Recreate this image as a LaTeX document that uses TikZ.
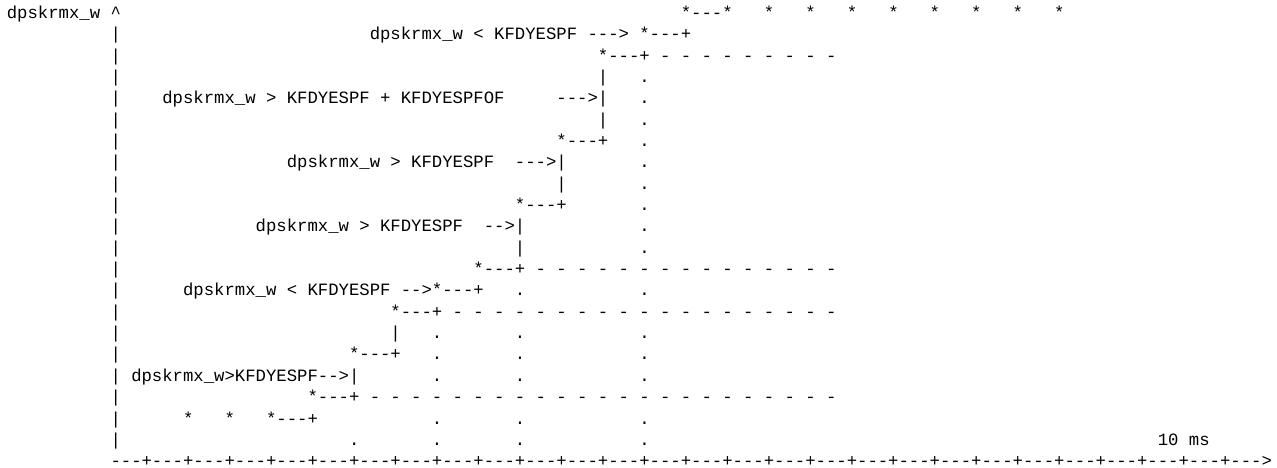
\documentclass[tikz,border=0pt]{standalone}
\usepackage{fontspec}
\setmonofont{Liberation Mono}
\usepackage{tikz}
\usetikzlibrary{positioning}
\tikzset{
  ascii/.style={font=\ttfamily\fontsize{10}{12}\selectfont,anchor=base west,xshift=-3pt,inner sep=0pt,outer sep=0pt},
  lbl/.style={ascii},
}

\begin{document}
\begin{tikzpicture}[x=6pt,y=-12.35pt]
\useasboundingbox (-1.157,0.134) rectangle (121.99,22.06);
% y axis
\node[lbl] (ylab) at (0,1) {dpskrmx\_w};
\node[ascii] (tip) at (10,1) {\textasciicircum};
\foreach \r in {2,...,21} \node[ascii] (bar\r) at (10,\r) {|};
% top level
\node[ascii] (top) at (65,1) {*---*};
\foreach \c in {73,77,...,101} \node[ascii] (star\c) at (\c,1) {*};
% staircase
\node[ascii] (s1) at (61,2) {*---+};
\node[ascii] (s2) at (57,3) {*---+};
\node[ascii] (s3) at (53,7) {*---+};
\node[ascii] (s4) at (49,10) {*---+};
\node[ascii] (s5) at (45,13) {*---+};
\node[ascii] (s6) at (41,14) {*---+};
\node[ascii] (s7) at (37,15) {*---+};
\node[ascii] (s8) at (33,17) {*---+};
\node[ascii] (s9) at (29,19) {*---+};
\node[ascii] (s10) at (25,20) {*---+};
\node[ascii] (low1) at (17,20) {*};
\node[ascii] (low2) at (21,20) {*};
\foreach \c/\r in {57/4,57/5,57/6,53/8,53/9,49/11,49/12,37/16,33/18}
  \node[ascii] (rise\c-\r) at (\c,\r) {|};
% conditions
\node[lbl] (cond1) at (35,2) {dpskrmx\_w < KFDYESPF};
\node[ascii] (arr1) at (56,2) {--->};
\node[lbl] (cond2) at (15,5) {dpskrmx\_w > KFDYESPF + KFDYESPFOF};
\node[ascii] (arr2) at (53,5) {--->};
\node[lbl] (cond3) at (27,8) {dpskrmx\_w > KFDYESPF};
\node[ascii] (arr3) at (49,8) {--->};
\node[lbl] (cond4) at (24,11) {dpskrmx\_w > KFDYESPF};
\node[ascii] (arr4) at (46,11) {-->};
\node[lbl] (cond5) at (17,14) {dpskrmx\_w < KFDYESPF};
\node[ascii] (arr5) at (38,14) {-->};
\node[lbl] (cond6) at (12,18) {dpskrmx\_w>KFDYESPF};
\node[ascii] (arr6) at (30,18) {-->};
% dashed levels
\foreach \c in {63,65,...,79} \node[ascii] (da3-\c) at (\c,3) {-};
\foreach \c in {51,53,...,79} \node[ascii] (da13-\c) at (\c,13) {-};
\foreach \c in {43,45,...,79} \node[ascii] (da15-\c) at (\c,15) {-};
\foreach \c in {35,37,...,79} \node[ascii] (da19-\c) at (\c,19) {-};
% dotted guides
\foreach \r in {4,...,12,14,16,17,18,20,21} \node[ascii] (dt61-\r) at (61,\r) {.};
\foreach \r in {14,16,17,18,20,21} \node[ascii] (dt49-\r) at (49,\r) {.};
\foreach \r in {16,17,18,20,21} \node[ascii] (dt41-\r) at (41,\r) {.};
\node[ascii] (dt33-21) at (33,21) {.};
% time axis
\node[lbl] (unit) at (111,21) {10 ms};
\node[ascii] (axis) at (10,22) {---+---+---+---+---+---+---+---+---+---+---+---+---+---+---+---+---+---+---+---+---+---+---+---+---+---+---+--->};
\end{tikzpicture}
\end{document}
